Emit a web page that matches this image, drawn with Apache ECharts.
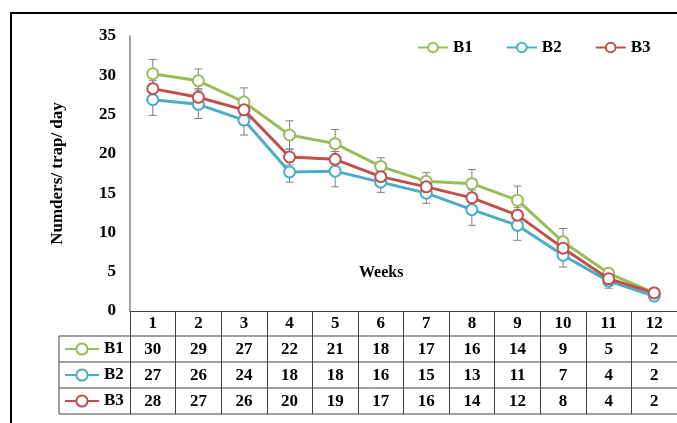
<!DOCTYPE html>
<html>
<head>
<meta charset="utf-8">
<script src="https://cdn.jsdelivr.net/npm/echarts@6/dist/echarts.min.js"></script>
<style>
  html, body { margin: 0; padding: 0; background: #fff; }
  #chart { width: 677px; height: 423px; }
</style>
</head>
<body>
<div id="chart"></div>
<script>
  // weeks and plotted means
  const weeks = ['1', '2', '3', '4', '5', '6', '7', '8', '9', '10', '11', '12'];
  const b1Mean = [30.2, 29.3, 26.6, 22.4, 21.3, 18.4, 16.5, 16.2, 14.1, 8.8, 4.8, 2.3];
  const b2Mean = [26.9, 26.3, 24.3, 17.7, 17.8, 16.4, 15.0, 12.9, 10.9, 7.1, 3.8, 1.9];
  const b3Mean = [28.3, 27.2, 25.6, 19.6, 19.3, 17.1, 15.8, 14.4, 12.2, 8.0, 4.1, 2.3];
  // error bar half-lengths
  const b1Err = [1.8, 1.5, 1.8, 1.8, 1.8, 1.1, 1.1, 1.8, 1.8, 1.7, 0.6, 0.2];
  const b2Err = [2.0, 1.8, 1.9, 1.3, 2.0, 1.3, 1.3, 2.0, 1.9, 1.5, 0.9, 0.2];
  const b3Err = [1.0, 1.1, 1.0, 1.0, 1.0, 0.8, 0.8, 1.0, 1.0, 0.8, 0.5, 0.2];
  // values printed in the data table
  const b1Table = [30, 29, 27, 22, 21, 18, 17, 16, 14, 9, 5, 2];
  const b2Table = [27, 26, 24, 18, 18, 16, 15, 13, 11, 7, 4, 2];
  const b3Table = [28, 27, 26, 20, 19, 17, 16, 14, 12, 8, 4, 2];
  const yTicks = [0, 5, 10, 15, 20, 25, 30, 35];

  const serif = '"Liberation Serif", "Times New Roman", serif';
  const colors = ['#9bbb59', '#4bacc6', '#c0504d'];
  const names = ['B1', 'B2', 'B3'];
  const means = [b1Mean, b2Mean, b3Mean];
  const errs = [b1Err, b2Err, b3Err];

  const chart = echarts.init(document.getElementById('chart'));

  const errData = [];
  means.forEach((m, s) => {
    m.forEach((v, i) => errData.push([i, v, errs[s][i]]));
  });

  function renderErr(params, api) {
    const x = api.value(0);
    const y = api.value(1);
    const e = api.value(2);
    const hi = api.coord([x, y + e]);
    const lo = api.coord([x, y - e]);
    const w = 4;
    const style = { stroke: '#7f7f7f', lineWidth: 1 };
    return {
      type: 'group',
      children: [
        { type: 'line', shape: { x1: hi[0], y1: hi[1], x2: lo[0], y2: lo[1] }, style },
        { type: 'line', shape: { x1: hi[0] - w, y1: hi[1], x2: hi[0] + w, y2: hi[1] }, style },
        { type: 'line', shape: { x1: lo[0] - w, y1: lo[1], x2: lo[0] + w, y2: lo[1] }, style }
      ]
    };
  }

  const lineSeries = names.map((n, s) => ({
    name: n,
    type: 'line',
    data: means[s],
    symbol: 'emptyCircle',
    symbolSize: 11,
    z: 3 + s,
    lineStyle: { color: colors[s], width: 3 },
    itemStyle: { color: colors[s], borderColor: colors[s], borderWidth: 3 }
  }));

  const gridLeft = 130, gridTop = 36, gridRight = -13, gridBottom = 112;
  const tableLeft = 59, tableRight = 700;
  const rowLines = [336, 362, 388, 414];

  const graphics = [
    {
      type: 'rect', silent: true,
      shape: { x: 11, y: 13, width: 720, height: 450 },
      style: { fill: 'none', stroke: '#000', lineWidth: 2 }
    },
    {
      type: 'text', left: 359, top: 265, silent: true,
      style: { text: 'Weeks', font: 'bold 16px ' + serif, fill: '#000' }
    },
    {
      type: 'line', silent: true,
      shape: { x1: tableLeft, y1: rowLines[0], x2: tableLeft, y2: rowLines[3] },
      style: { stroke: '#404040', lineWidth: 1 }
    }
  ];
  rowLines.forEach((y) => {
    graphics.push({
      type: 'line', silent: true,
      shape: { x1: tableLeft, y1: y, x2: tableRight, y2: y },
      style: { stroke: '#404040', lineWidth: 1 }
    });
  });

  chart.setOption({
    animation: false,
    grid: { left: gridLeft, top: gridTop, right: gridRight, bottom: gridBottom, containLabel: false },
    legend: [
      {
        data: names,
        left: 412, top: 34,
        itemWidth: 30, itemHeight: 12, itemGap: 33,
        selectedMode: false,
        textStyle: { fontFamily: serif, fontWeight: 'bold', fontSize: 17, color: '#000' }
      },
      {
        data: names,
        orient: 'vertical',
        left: 64, top: 339,
        padding: 0,
        height: 84,
        itemWidth: 34, itemHeight: 14, itemGap: 6,
        selectedMode: false,
        textStyle: { fontFamily: serif, fontWeight: 'bold', fontSize: 17, color: '#000', lineHeight: 20, height: 20 }
      }
    ],
    xAxis: {
      type: 'category',
      data: weeks,
      boundaryGap: true,
      axisLine: { lineStyle: { color: '#404040', width: 1 } },
      axisTick: { show: true, interval: 0, length: 103, lineStyle: { color: '#404040', width: 1 } },
      axisLabel: {
        interval: 0,
        margin: 0,
        formatter: function (value, idx) {
          return '{t|' + value + '}\n{t|' + b1Table[idx] + '}\n{t|' + b2Table[idx] + '}\n{t|' + b3Table[idx] + '}';
        },
        rich: {
          t: { fontFamily: serif, fontWeight: 'bold', fontSize: 17, color: '#000', lineHeight: 26, height: 26 }
        }
      },
      splitLine: { show: false }
    },
    yAxis: {
      type: 'value',
      min: yTicks[0],
      max: yTicks[yTicks.length - 1],
      interval: 5,
      name: 'Numders/ trap/ day',
      nameLocation: 'middle',
      nameRotate: 90,
      nameGap: 64,
      nameTextStyle: { fontFamily: serif, fontWeight: 'bold', fontSize: 17, color: '#000' },
      axisLine: { show: true, lineStyle: { color: '#868686', width: 1.5 } },
      axisTick: { show: false },
      axisLabel: { margin: 14, fontFamily: serif, fontWeight: 'bold', fontSize: 17, color: '#000' },
      splitLine: { show: false }
    },
    series: [
      {
        type: 'custom',
        renderItem: renderErr,
        data: errData,
        z: 2,
        silent: true,
        encode: { x: 0, y: 1 }
      }
    ].concat(lineSeries),
    graphic: graphics
  });
</script>
</body>
</html>
